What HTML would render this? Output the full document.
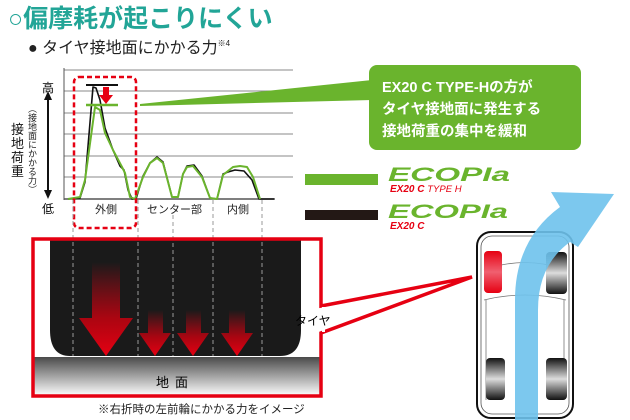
<!DOCTYPE html>
<html><head><meta charset="utf-8"><style>
html,body{margin:0;padding:0;background:#fff;}
svg{display:block;font-family:"Liberation Sans","Noto Sans CJK JP",sans-serif;}
</style></head><body>
<svg width="630" height="420" viewBox="0 0 630 420" xmlns="http://www.w3.org/2000/svg">
<defs>
<linearGradient id="gnd" x1="0" y1="0" x2="0" y2="1"><stop offset="0" stop-color="#4a4a4a"/><stop offset="1" stop-color="#fff"/></linearGradient>
<linearGradient id="ra" x1="0" y1="0" x2="0" y2="1"><stop offset="0" stop-color="#e60012" stop-opacity="0"/><stop offset="0.6" stop-color="#d0000f" stop-opacity="0.8"/><stop offset="1" stop-color="#e60012"/></linearGradient>
<linearGradient id="wh" x1="0" y1="0" x2="0" y2="1"><stop offset="0" stop-color="#111"/><stop offset="0.5" stop-color="#ddd"/><stop offset="1" stop-color="#111"/></linearGradient>
<linearGradient id="whr" x1="0" y1="0" x2="0" y2="1"><stop offset="0" stop-color="#e60012"/><stop offset="0.5" stop-color="#f06070"/><stop offset="1" stop-color="#e60012"/></linearGradient>
</defs>
<text x="8" y="27" font-size="25" fill="#22a597" font-weight="bold">○偏摩耗が起こりにくい</text>
<text x="28" y="53" font-size="16" fill="#222">● タイヤ接地面にかかる力<tspan font-size="8" dy="-7">※4</tspan></text>
<g stroke="#888" stroke-width="1">
<line x1="64" y1="70" x2="293" y2="70"/><line x1="64" y1="91" x2="293" y2="91"/><line x1="64" y1="113" x2="293" y2="113"/><line x1="64" y1="134" x2="293" y2="134"/><line x1="64" y1="156" x2="293" y2="156"/><line x1="64" y1="177" x2="293" y2="177"/>
<line x1="64" y1="199" x2="275" y2="199" stroke="#555" stroke-width="1.5"/>
<line x1="64" y1="68" x2="64" y2="200" stroke="#555"/>
</g>
<line x1="48" y1="98" x2="48" y2="192" stroke="#111" stroke-width="2"/>
<polygon points="48,91 44,100 52,100" fill="#111"/><polygon points="48,199 44,190 52,190" fill="#111"/>
<text x="48" y="92" font-size="12" text-anchor="middle">高</text>
<text x="48" y="213" font-size="12" text-anchor="middle">低</text>
<text font-size="13" fill="#111"><tspan x="11" y="134">接</tspan><tspan x="11" y="148">地</tspan><tspan x="11" y="162">荷</tspan><tspan x="11" y="176">重</tspan></text>
<text font-size="9" fill="#222" writing-mode="tb" x="32" y="104">（接地面にかかる力）</text>
<polyline fill="none" stroke="#111" stroke-width="1.6" stroke-linejoin="round" points="68,199 80,198 85,182 93,87 96,88 100,100 105,128 113,150 120,166 124,170 128,190 132,199 136,199 143,176 150,163 157,157 163,162 172,197 178,197 183,174 187,166 194,165 202,176 210,198 217,199 223,174 228,172 235,170 244,171 252,180 259,199 274,199"/>
<polyline fill="none" stroke="#6ab42d" stroke-width="2" stroke-linejoin="round" points="68,199 80,197 85,180 95,107 100,110 105,133 113,150 122,167 125,173 130,197 135,199 143,177 150,163 157,158 163,163 172,197 178,197 183,174 187,167 193,166 202,177 210,198 217,199 223,175 233,167 240,166 247,167 253,177 260,199"/>
<line x1="86" y1="85" x2="118" y2="85" stroke="#111" stroke-width="2"/>
<line x1="86" y1="105" x2="118" y2="105" stroke="#6ab42d" stroke-width="2.5"/>
<rect x="103" y="87" width="6" height="9" fill="#e60012"/><polygon points="99,95 113,95 106,104" fill="#e60012"/>
<rect x="74" y="77" width="62" height="151" rx="5" fill="none" stroke="#e60012" stroke-width="2.5" stroke-dasharray="5,3"/>
<polygon points="140,104 372,80 372,100 140,106" fill="#6ab42d"/>
<rect x="369" y="65" width="212" height="85" rx="8" fill="#6ab42d"/>
<text fill="#fff" font-size="14.5" font-weight="bold"><tspan x="382" y="92">EX20 C TYPE-Hの方が</tspan><tspan x="382" y="114">タイヤ接地面に発生する</tspan><tspan x="382" y="136">接地荷重の集中を緩和</tspan></text>
<text font-size="11" fill="#222"><tspan x="95" y="213">外側</tspan><tspan x="147" y="213">センター部</tspan><tspan x="227" y="213">内側</tspan></text>
<rect x="305" y="174" width="73" height="11" fill="#6ab42d"/>
<rect x="305" y="210" width="73" height="10" fill="#231815"/>
<text x="388" y="181" font-size="19" font-weight="bold" font-style="italic" fill="#6ab42d" textLength="122" lengthAdjust="spacingAndGlyphs">ECOPIa</text>
<text x="390" y="192" font-size="10" font-weight="bold" font-style="italic" fill="#e60012">EX20 C <tspan font-weight="normal" font-size="9.5">TYPE H</tspan></text>
<text x="388" y="218" font-size="19" font-weight="bold" font-style="italic" fill="#6ab42d" textLength="120" lengthAdjust="spacingAndGlyphs">ECOPIa</text>
<text x="390" y="229" font-size="10" font-weight="bold" font-style="italic" fill="#e60012">EX20 C</text>
<path d="M50,239 H301 V330 Q301,356 280,356 H70 Q50,356 50,330 Z" fill="#1a1a1a"/>
<rect x="33" y="357" width="288" height="39" fill="url(#gnd)"/>
<text x="175" y="387" font-size="13" text-anchor="middle" letter-spacing="6">地面</text>
<g fill="url(#ra)">
<path d="M92,262 H120 V318 H133 L106,356 L79,318 H92 Z"/>
<path d="M148,310 H163 V333 H171 L155,356 L139,333 H148 Z"/>
<path d="M186,310 H201 V333 H209 L193,356 L177,333 H186 Z"/>
<path d="M229,310 H245 V333 H253 L237,356 L221,333 H229 Z"/>
</g>
<g stroke="#999" stroke-width="1" stroke-dasharray="4,3">
<line x1="73" y1="200" x2="73" y2="356"/><line x1="138" y1="200" x2="138" y2="356"/><line x1="173" y1="215" x2="173" y2="356"/><line x1="213" y1="200" x2="213" y2="356"/><line x1="262" y1="200" x2="262" y2="356"/>
</g>
<path d="M321,306 V239 H33 V396 H321 V333 L472,277 Z" fill="none" stroke="#e60012" stroke-width="3.5" stroke-linejoin="miter"/>
<rect x="322" y="307" width="3" height="25" fill="#fff"/>
<text x="295" y="325" font-size="12">タイヤ</text>
<text x="98" y="413" font-size="11.5" fill="#222">※右折時の左前輪にかかる力をイメージ</text>
<rect x="477" y="232" width="96" height="186" rx="14" fill="#fff" stroke="#111" stroke-width="2"/>
<rect x="481" y="236" width="88" height="178" rx="11" fill="none" stroke="#555" stroke-width="0.8"/>
<path d="M484,270 Q525,255 566,270 M484,300 Q525,290 566,300 M486,300 V400 M564,300 V400" fill="none" stroke="#777" stroke-width="0.8"/>
<rect x="484" y="251" width="18" height="42" rx="4" fill="url(#whr)"/>
<rect x="546" y="252" width="21" height="42" rx="4" fill="url(#wh)"/>
<rect x="486" y="358" width="19" height="42" rx="4" fill="url(#wh)"/>
<rect x="546" y="358" width="21" height="42" rx="4" fill="url(#wh)"/>
<path d="M515,420 V300 Q515,240 560,207 L551,192 L614,194 L578,247 L570,242 Q538,265 538,310 V420 Z" fill="#6ec2ec" opacity="0.9"/>
</svg>
</body></html>
